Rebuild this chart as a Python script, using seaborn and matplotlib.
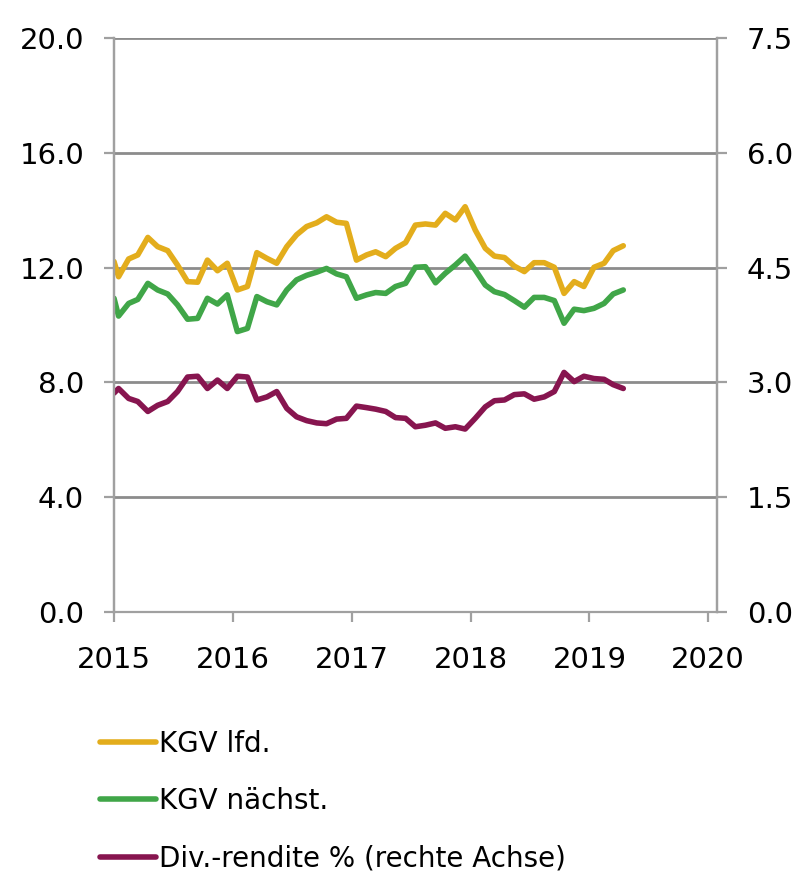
import matplotlib
matplotlib.use('Agg')
import matplotlib.pyplot as plt
import matplotlib.dates as mdates
import seaborn as sns
import numpy as np
import pandas as pd

# first point sits on the year start, then one value per month (mid-month)
dates = [pd.Timestamp('2015-01-01')] + list(pd.date_range('2015-01-01', '2019-04-01', freq='MS') + pd.Timedelta(days=14))

kgv_lfd = [12.21, 11.68, 12.30, 12.44, 13.05, 12.73, 12.59, 12.09, 11.51, 11.49, 12.26, 11.89, 12.15,
           11.22, 11.34, 12.52, 12.32, 12.15, 12.73, 13.14, 13.43, 13.56, 13.77, 13.58, 13.54,
           12.26, 12.44, 12.55, 12.38, 12.67, 12.87, 13.48, 13.52, 13.48, 13.89, 13.66, 14.12,
           13.31, 12.67, 12.40, 12.35, 12.05, 11.86, 12.17, 12.17, 12.01, 11.10, 11.51, 11.34,
           12.01, 12.15, 12.59, 12.76]

kgv_naechst = [10.93, 10.31, 10.75, 10.89, 11.45, 11.22, 11.08, 10.70, 10.20, 10.23, 10.93, 10.73, 11.05,
               9.77, 9.88, 10.99, 10.81, 10.70, 11.22, 11.57, 11.73, 11.84, 11.97, 11.78, 11.68,
               10.93, 11.05, 11.13, 11.10, 11.34, 11.45, 12.01, 12.03, 11.47, 11.80, 12.09, 12.40,
               11.92, 11.39, 11.16, 11.06, 10.85, 10.62, 10.96, 10.96, 10.85, 10.06, 10.55, 10.50,
               10.58, 10.75, 11.08, 11.22]

div_rendite = [2.86, 2.92, 2.79, 2.75, 2.62, 2.70, 2.75, 2.88, 3.07, 3.08, 2.92, 3.03, 2.92,
               3.08, 3.07, 2.77, 2.81, 2.88, 2.66, 2.55, 2.50, 2.47, 2.46, 2.52, 2.53,
               2.69, 2.67, 2.65, 2.62, 2.54, 2.53, 2.42, 2.44, 2.47, 2.40, 2.42, 2.39,
               2.53, 2.68, 2.76, 2.77, 2.84, 2.85, 2.78, 2.81, 2.88, 3.13, 3.01, 3.08,
               3.05, 3.04, 2.97, 2.92]

labels = ['KGV lfd.', 'KGV nächst.', 'Div.-rendite % (rechte Achse)']
colors = ['#E3AD1C', '#40A648', '#87154F']

df = pd.DataFrame({'Datum': dates, 'lfd': kgv_lfd, 'naechst': kgv_naechst, 'div': div_rendite})

sns.set_style('white')
plt.rcParams['font.family'] = ['DejaVu Sans']
plt.rcParams['text.color'] = 'black'
grey = '#8c8c8c'

fig = plt.figure(figsize=(8.04, 8.71), dpi=100)
ax = fig.add_axes([0.1418, 0.2974, 0.75, 0.659])
ax2 = ax.twinx()

sns.lineplot(data=df, x='Datum', y='lfd', ax=ax, color=colors[0], lw=4, label=labels[0], legend=False)
sns.lineplot(data=df, x='Datum', y='naechst', ax=ax, color=colors[1], lw=4, label=labels[1], legend=False)
sns.lineplot(data=df, x='Datum', y='div', ax=ax2, color=colors[2], lw=4, label=labels[2], legend=False)

ax.set_ylim(0, 20)
ax2.set_ylim(0, 7.5)
ax.set_yticks(np.arange(0, 20.1, 4))
ax2.set_yticks(np.arange(0, 7.6, 1.5))
ax.yaxis.set_major_formatter(matplotlib.ticker.FormatStrFormatter('%.1f'))
ax2.yaxis.set_major_formatter(matplotlib.ticker.FormatStrFormatter('%.1f'))

ax.set_xlim(pd.Timestamp('2015-01-01'), pd.Timestamp('2020-01-28'))
ax.xaxis.set_major_locator(mdates.YearLocator())
ax.xaxis.set_major_formatter(mdates.DateFormatter('%Y'))

ax.grid(axis='y', color=grey, lw=2)
ax.set_axisbelow(True)
ax.set_xlabel('')
ax.set_ylabel('')
ax2.set_ylabel('')

for a in (ax, ax2):
    a.spines['top'].set_visible(False)
    for s in ('left', 'right', 'bottom'):
        a.spines[s].set_color('#a0a0a0')
        a.spines[s].set_linewidth(1.6)
    a.tick_params(axis='both', length=7.5, width=1.6, color='#a0a0a0', labelsize=21, labelcolor='black')
ax2.spines['bottom'].set_visible(False)
ax.tick_params(axis='y', left=True, pad=14)
ax2.tick_params(axis='y', right=True, pad=14)
ax.tick_params(axis='x', bottom=True, pad=17)

handles = ax.get_lines()[:2] + ax2.get_lines()[:1]
leg = fig.legend(handles, labels, loc='upper left', bbox_to_anchor=(0.125, 0.162),
                 frameon=False, fontsize=20, handlelength=2.0, handletextpad=0.12,
                 labelspacing=1.05, borderpad=0, borderaxespad=0)
for t in leg.get_texts():
    t.set_color('black')

fig.savefig('out.png', dpi=100)
